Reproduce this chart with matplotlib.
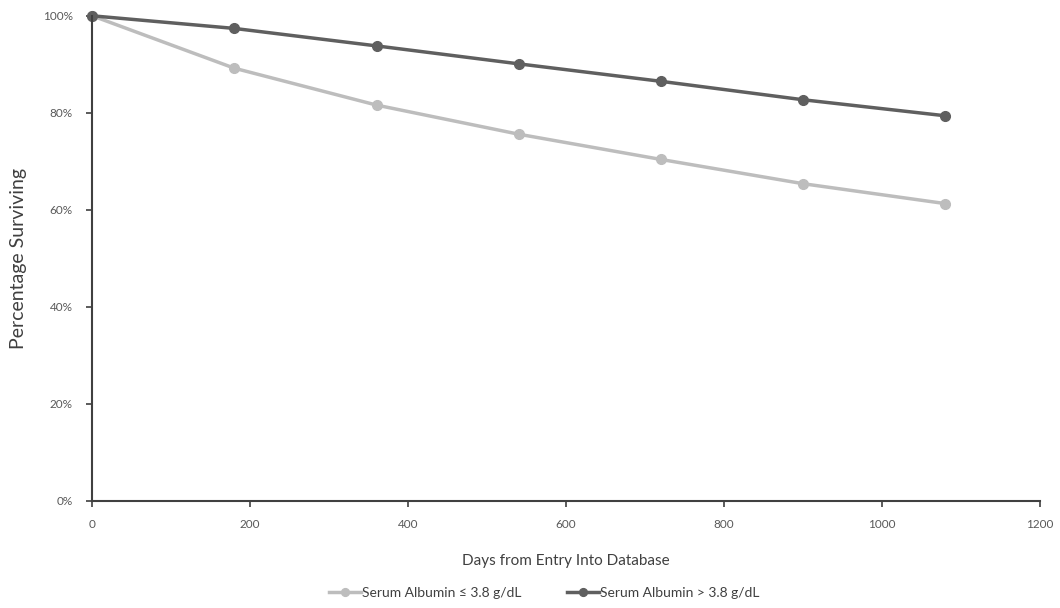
import matplotlib
matplotlib.use("Agg")
import matplotlib.pyplot as plt
from matplotlib.ticker import PercentFormatter

plt.rcParams['font.family'] = ['Lato', 'DejaVu Sans']

days = [0, 180, 360, 540, 720, 900, 1080]
low_albumin = [100, 89.2, 81.6, 75.6, 70.4, 65.4, 61.3]
high_albumin = [100, 97.4, 93.8, 90.1, 86.5, 82.7, 79.4]

fig = plt.figure(figsize=(10.6, 6.08), dpi=100)
ax = fig.add_axes([0.087, 0.176, 0.894, 0.798])

ax.plot(days, low_albumin, color='#bdbdbd', lw=2.5, marker='o', ms=7,
        label='Serum Albumin \u2264 3.8 g/dL', clip_on=False)
ax.plot(days, high_albumin, color='#5f5f5f', lw=2.5, marker='o', ms=7,
        label='Serum Albumin > 3.8 g/dL', clip_on=False)

ax.set_xlim(0, 1200)
ax.set_ylim(0, 100)
ax.set_xticks(range(0, 1201, 200))
ax.set_yticks(range(0, 101, 20))
ax.yaxis.set_major_formatter(PercentFormatter(decimals=0))

for s in ['top', 'right']:
    ax.spines[s].set_visible(False)
for s in ['left', 'bottom']:
    ax.spines[s].set_color('#404040')
    ax.spines[s].set_linewidth(1.5)
ax.tick_params(colors='#404040', labelcolor='#595959', labelsize=8.5, length=4, width=1.2)
ax.tick_params(axis='y', pad=10)
ax.tick_params(axis='x', pad=9)

ax.set_xlabel('Days from Entry Into Database', fontsize=11, color='#404040', labelpad=17)
ax.set_ylabel('Percentage Surviving', fontsize=14, color='#404040', labelpad=11)

ax.legend(loc='center', bbox_to_anchor=(0.477, -0.19), ncol=2, frameon=False,
          fontsize=10, labelcolor='#404040', handlelength=2.3, columnspacing=3.3,
          handletextpad=0.1, markerscale=0.8)

fig.savefig('out.png', dpi=100)
